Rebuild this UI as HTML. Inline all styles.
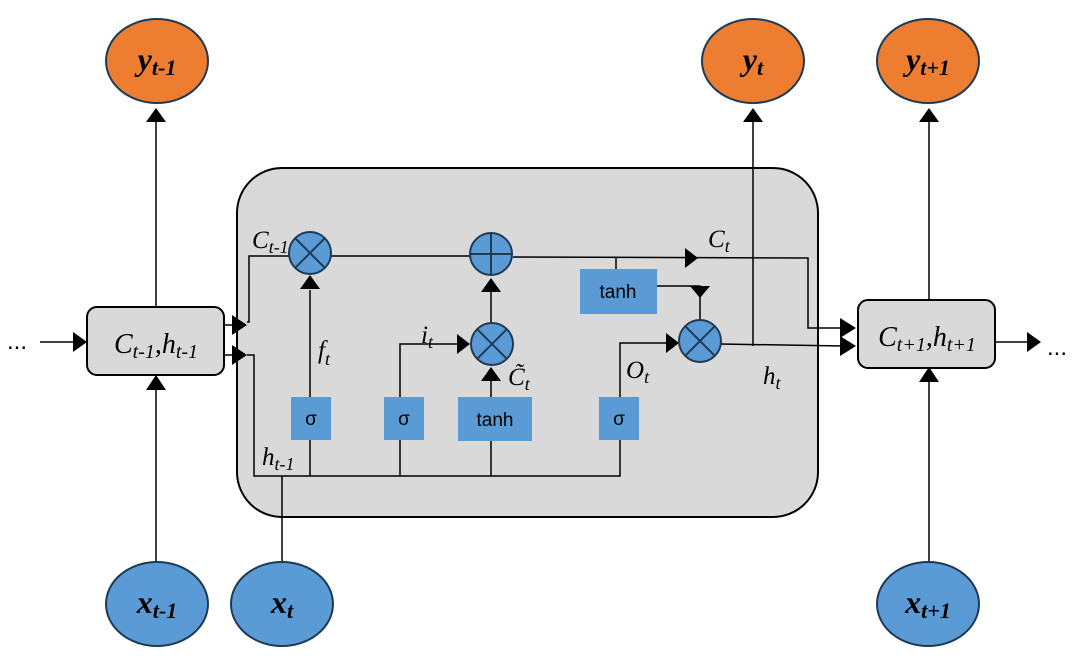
<!DOCTYPE html>
<html><head><meta charset="utf-8"><style>
body{margin:0;background:#fff}
svg{display:block}
.l{font-family:"Liberation Serif",serif;font-style:italic;fill:#000}
.s{font-family:"Liberation Sans",sans-serif;fill:#000;font-size:19px}
</style></head><body>
<svg width="1084" height="662" viewBox="0 0 1084 662" xmlns="http://www.w3.org/2000/svg">
<defs>
<g id="mul"><circle r="21" fill="#5B9BD5" stroke="#1F3A55" stroke-width="2"/><line x1="-14.8" y1="-14.8" x2="14.8" y2="14.8" stroke="#1F3A55" stroke-width="2"/><line x1="-14.8" y1="14.8" x2="14.8" y2="-14.8" stroke="#1F3A55" stroke-width="2"/></g>
</defs>
<rect x="237" y="168" width="581" height="349" rx="45" fill="#D9D9D9" stroke="#000" stroke-width="2"/>
<g stroke="#000" stroke-width="1.5" fill="none">
<line x1="40" y1="342" x2="76" y2="342"/>
<line x1="224" y1="325" x2="234" y2="325"/>
<line x1="224" y1="355" x2="234" y2="355"/>
<polyline points="247,322 249,322 249,256 289,256"/>
<polyline points="247,355 254,355 254,476 620,476 620,440"/>
<line x1="282" y1="476" x2="282" y2="562"/>
<line x1="310" y1="397" x2="310" y2="290"/>
<line x1="310" y1="440" x2="310" y2="476"/>
<polyline points="400,476 400,440"/>
<polyline points="400,397 400,344 458,344"/>
<line x1="491" y1="441" x2="491" y2="476"/>
<line x1="491" y1="397" x2="491" y2="380"/>
<line x1="491" y1="323" x2="491" y2="290"/>
<polyline points="620,397 620,343 667,343"/>
<line x1="331" y1="256" x2="470" y2="256"/>
<polyline points="513,257 808,258 808,328 843,328"/>
<line x1="616" y1="258" x2="616" y2="269"/>
<polyline points="657,286 700,286 700,320"/>
<polyline points="720,344 843,346"/>
<line x1="753" y1="122" x2="753" y2="346"/>
<line x1="156" y1="122" x2="156" y2="307"/>
<line x1="156" y1="390" x2="156" y2="562"/>
<line x1="929" y1="122" x2="929" y2="300"/>
<line x1="929" y1="382" x2="929" y2="562"/>
<line x1="995" y1="342" x2="1030" y2="342"/>
</g>
<g fill="#000">
<polygon points="73,332 87,342 73,352"/>
<polygon points="232,315 247,325 232,335"/>
<polygon points="232,345 247,355 232,365"/>
<polygon points="146,122 156,108 166,122"/>
<polygon points="146,390 156,375 166,390"/>
<polygon points="919,122 929,108 939,122"/>
<polygon points="919,382 929,367 939,382"/>
<polygon points="743,122 753,108 763,122"/>
<polygon points="300,289 310,275 320,289"/>
<polygon points="481,292 491,278 501,292"/>
<polygon points="481,381 491,367 501,381"/>
<polygon points="457,334 470,344 457,354"/>
<polygon points="666,333 679,343 666,353"/>
<polygon points="685,248 698,258 685,268"/>
<polygon points="690,286 710,286 700,298"/>
<polygon points="840,318 856,328 840,338"/>
<polygon points="840,336 856,346 840,356"/>
<polygon points="1027,332 1041,342 1027,352"/>
</g>
<rect x="87" y="307" width="137" height="68" rx="10" fill="#D9D9D9" stroke="#000" stroke-width="2"/>
<rect x="858" y="300" width="137" height="68" rx="10" fill="#D9D9D9" stroke="#000" stroke-width="2"/>
<text class="l" x="156" y="353" font-size="28" text-anchor="middle">C<tspan font-size="20" dy="5">t-1</tspan><tspan dy="-5">,h</tspan><tspan font-size="20" dy="5">t-1</tspan></text>
<text class="l" x="927" y="346" font-size="28" text-anchor="middle">C<tspan font-size="20" dy="5">t+1</tspan><tspan dy="-5">,h</tspan><tspan font-size="20" dy="5">t+1</tspan></text>
<use href="#mul" x="310" y="253"/>
<g transform="translate(491,254)"><circle r="21" fill="#5B9BD5" stroke="#1F3A55" stroke-width="2"/><line x1="-21" y1="0" x2="21" y2="0" stroke="#1F3A55" stroke-width="2"/><line x1="0" y1="-21" x2="0" y2="21" stroke="#1F3A55" stroke-width="2"/></g>
<use href="#mul" x="492" y="344"/>
<use href="#mul" x="700" y="341"/>
<g fill="#5B9BD5">
<rect x="291" y="397" width="40" height="43"/>
<rect x="384" y="397" width="40" height="43"/>
<rect x="458" y="397" width="74" height="44"/>
<rect x="599" y="397" width="40" height="43"/>
<rect x="580" y="269" width="77" height="45"/>
</g>
<text class="s" x="311" y="425" text-anchor="middle">σ</text>
<text class="s" x="404" y="425" text-anchor="middle">σ</text>
<text class="s" x="495" y="426" text-anchor="middle">tanh</text>
<text class="s" x="619" y="425" text-anchor="middle">σ</text>
<text class="s" x="618" y="298" text-anchor="middle">tanh</text>
<text class="l" x="252" y="248" font-size="25">C<tspan font-size="18" dy="5">t-1</tspan></text>
<text class="l" x="318" y="358" font-size="25">f<tspan font-size="18" dy="7">t</tspan></text>
<text class="l" x="421" y="343" font-size="25">i<tspan font-size="18" dy="5">t</tspan></text>
<text class="l" x="508" y="385" font-size="25">C̃<tspan font-size="18" dy="5">t</tspan></text>
<text class="l" x="626" y="378" font-size="25">O<tspan font-size="18" dy="5">t</tspan></text>
<text class="l" x="708" y="247" font-size="25">C<tspan font-size="18" dy="5">t</tspan></text>
<text class="l" x="763" y="384" font-size="25">h<tspan font-size="18" dy="5">t</tspan></text>
<text class="l" x="262" y="465" font-size="25">h<tspan font-size="18" dy="5">t-1</tspan></text>
<text x="7" y="349" font-family="Liberation Sans,sans-serif" font-size="24">...</text>
<text x="1047" y="355" font-family="Liberation Sans,sans-serif" font-size="24">...</text>
<g stroke="#1F3A55" stroke-width="2">
<ellipse cx="157" cy="61" rx="51" ry="42" fill="#ED7D31"/>
<ellipse cx="753" cy="61" rx="51" ry="42" fill="#ED7D31"/>
<ellipse cx="928" cy="61" rx="51" ry="42" fill="#ED7D31"/>
<ellipse cx="157" cy="604" rx="51" ry="42" fill="#5B9BD5"/>
<ellipse cx="282" cy="604" rx="51" ry="42" fill="#5B9BD5"/>
<ellipse cx="928" cy="604" rx="51" ry="42" fill="#5B9BD5"/>
</g>
<g class="l" font-size="32" font-weight="bold" text-anchor="middle">
<text x="157" y="70">y<tspan font-size="22" dy="5">t-1</tspan></text>
<text x="753" y="70">y<tspan font-size="22" dy="5">t</tspan></text>
<text x="928" y="70">y<tspan font-size="22" dy="5">t+1</tspan></text>
<text x="157" y="613">x<tspan font-size="22" dy="5">t-1</tspan></text>
<text x="282" y="613">x<tspan font-size="22" dy="5">t</tspan></text>
<text x="928" y="613">x<tspan font-size="22" dy="5">t+1</tspan></text>
</g>
</svg>
</body></html>
